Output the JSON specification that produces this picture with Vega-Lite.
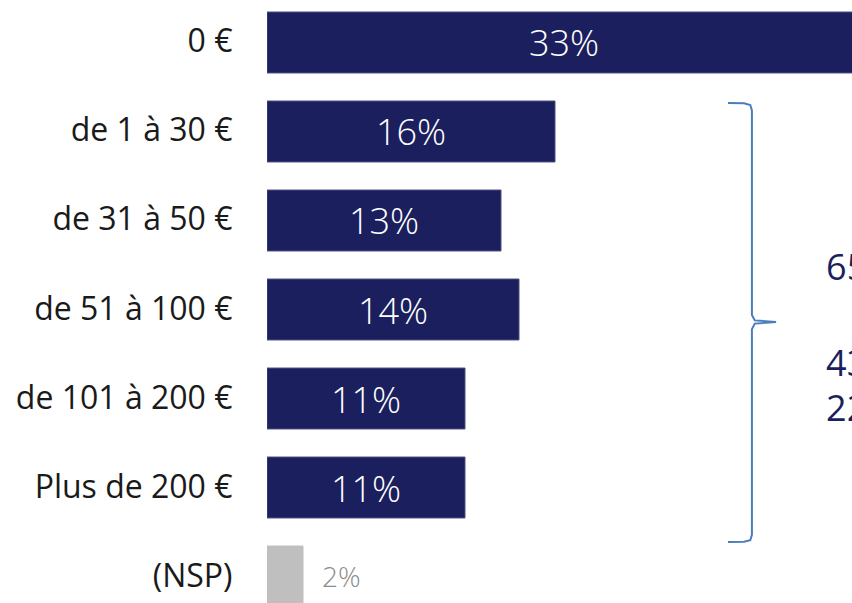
{
  "$schema": "https://vega.github.io/schema/vega-lite/v6.json",
  "width": 585,
  "height": 603,
  "autosize": {"type": "none"},
  "padding": {"left": 267, "top": 0, "right": 0, "bottom": 0},
  "background": "white",
  "config": {"view": {"stroke": null}, "font": "Open Sans"},
  "datasets": {
    "bars": [
      {"cat": "0 €", "value": 33},
      {"cat": "de 1 à 30 €", "value": 16},
      {"cat": "de 31 à 50 €", "value": 13},
      {"cat": "de 51 à 100 €", "value": 14},
      {"cat": "de 101 à 200 €", "value": 11},
      {"cat": "Plus de 200 €", "value": 11},
      {"cat": "(NSP)", "value": 2}
    ],
    "brace": [
      {"o": 1, "x": 25.61, "y": 1.157},
      {"o": 2, "x": 26.5, "y": 1.16},
      {"o": 3, "x": 26.85, "y": 1.18},
      {"o": 4, "x": 26.94, "y": 1.24},
      {"o": 5, "x": 26.94, "y": 3.54},
      {"o": 6, "x": 27.1, "y": 3.6},
      {"o": 7, "x": 28.28, "y": 3.618},
      {"o": 8, "x": 27.1, "y": 3.636},
      {"o": 9, "x": 26.94, "y": 3.7},
      {"o": 10, "x": 26.94, "y": 6.01},
      {"o": 11, "x": 26.85, "y": 6.07},
      {"o": 12, "x": 26.5, "y": 6.088},
      {"o": 13, "x": 25.61, "y": 6.09}
    ],
    "notes": [
      {"text": "65%", "x": 31.06, "y": 3.02},
      {"text": "43%", "x": 31.06, "y": 4.1},
      {"text": "22%", "x": 31.06, "y": 4.61}
    ]
  },
  "resolve": {"scale": {"y": "independent"}},
  "layer": [
    {
      "data": {"name": "bars"},
      "encoding": {
        "y": {
          "field": "cat",
          "type": "nominal",
          "sort": null,
          "scale": {"range": [0, 619], "paddingInner": 0.315, "paddingOuter": 0.135},
          "axis": {
            "title": null,
            "domain": false,
            "ticks": false,
            "labelFontSize": 32,
            "labelColor": "#1a1a1a",
            "labelPadding": 35,
            "labelFont": "Open Sans",
            "labelLimit": 300
          }
        }
      },
      "layer": [
        {
          "mark": {"type": "bar", "clip": true, "strokeWidth": 1},
          "encoding": {
            "x": {"field": "value", "type": "quantitative", "scale": {"domain": [0, 32.5]}, "axis": null},
            "color": {
              "condition": {"test": "datum.cat === '(NSP)'", "value": "#bfbfbf"},
              "value": "#1b1f5e"
            },
            "stroke": {
              "condition": {"test": "datum.cat === '(NSP)'", "value": "#bfbfbf"},
              "value": "#4a5080"
            }
          }
        },
        {
          "transform": [
            {"filter": "datum.cat !== '(NSP)'"},
            {"calculate": "datum.value / 2", "as": "mid"},
            {"calculate": "datum.value + '%'", "as": "label"}
          ],
          "mark": {"type": "text", "color": "white", "fontSize": 36, "font": "Open Sans", "fontWeight": 300, "baseline": "middle", "align": "center", "dy": 3},
          "encoding": {
            "x": {"field": "mid", "type": "quantitative", "scale": {"domain": [0, 32.5]}, "axis": null},
            "text": {"field": "label", "type": "nominal"}
          }
        },
        {
          "transform": [
            {"filter": "datum.cat === '(NSP)'"},
            {"calculate": "datum.value + '%'", "as": "label"}
          ],
          "mark": {"type": "text", "color": "#8c8c8c", "fontSize": 28, "font": "Open Sans", "fontWeight": 300, "baseline": "middle", "align": "left", "dx": 19, "dy": 2},
          "encoding": {
            "x": {"field": "value", "type": "quantitative", "scale": {"domain": [0, 32.5]}, "axis": null},
            "text": {"field": "label", "type": "nominal"}
          }
        }
      ]
    },
    {
      "encoding": {},
      "layer": [
        {
          "data": {"name": "brace"},
          "mark": {"type": "line", "color": "#4a7ebb", "strokeWidth": 2, "clip": false},
          "encoding": {
            "x": {"field": "x", "type": "quantitative", "scale": {"domain": [0, 32.5]}, "axis": null},
            "y": {"field": "y", "type": "quantitative", "scale": {"domain": [0, 6.955], "range": [0, 619], "zero": false, "nice": false}, "axis": null},
            "order": {"field": "o", "type": "quantitative"}
          }
        },
        {
          "data": {"name": "notes"},
          "mark": {"type": "text", "color": "#1b1f5e", "fontSize": 36, "font": "Open Sans", "baseline": "middle", "align": "left", "clip": false},
          "encoding": {
            "x": {"field": "x", "type": "quantitative", "scale": {"domain": [0, 32.5]}, "axis": null},
            "y": {"field": "y", "type": "quantitative", "scale": {"domain": [0, 6.955], "range": [0, 619], "zero": false, "nice": false}, "axis": null},
            "text": {"field": "text"}
          }
        }
      ]
    }
  ]
}
